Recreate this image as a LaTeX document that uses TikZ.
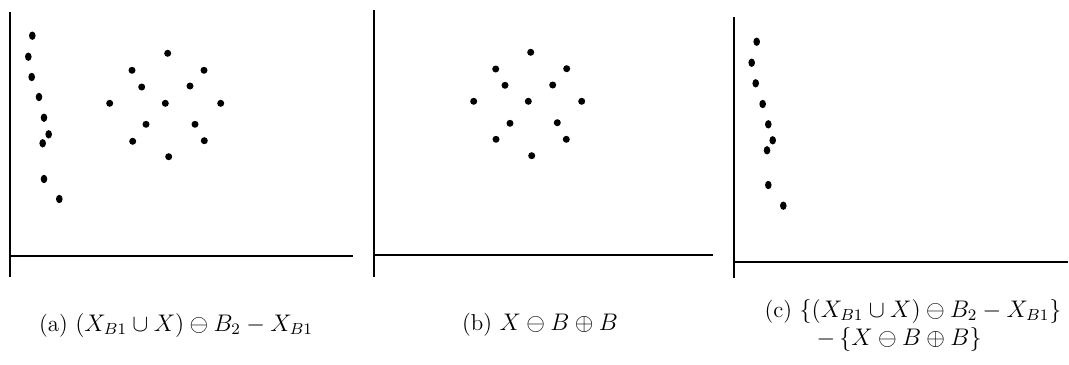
\documentclass[tikz,border=0pt]{standalone}
\usepackage{amsmath, amssymb}
\usepackage{tikz}
\usetikzlibrary{positioning}

\begin{document}
\begin{tikzpicture}[x=0.5pt, y=-0.5pt, axis/.style={line width=0.9pt, black},
  capnode/.style={font=\fontsize{11.5}{14}\selectfont, align=left, inner sep=0pt},
  ldot/.style={fill=black}, cdot/.style={fill=black}]
\useasboundingbox (0,0) rectangle (1069,364);
% panel (a)
\draw[axis] (10,12) -- (10,277); \draw[axis] (9,256) -- (353,256);
\foreach \x/\y in {32.3/35.7, 28.3/56.7, 31.7/77, 39/97, 44/117.7, 48.7/134.3, 42.7/143.3, 44/179, 59.3/199}
  \fill[ldot] (\x,\y) ellipse [x radius=1.65pt, y radius=2.1pt];
\foreach \x/\y in {167.7/53.3, 132/70.3, 204/70.3, 141.7/87, 190/86, 109.7/103.3, 165.3/103.3, 220.7/103.3, 146/124.3, 195/124.3, 132.7/141.3, 204.3/140.7, 168.7/156.7}
  \fill[cdot] (\x,\y) circle [radius=1.75pt];
% panel (b)
\draw[axis] (374,10) -- (374,277); \draw[axis] (373,255) -- (713,255);
\foreach \x/\y in {530.7/52.3, 495.7/69, 566.7/68.7, 505/85.3, 552.7/85, 473.7/101.3, 528.3/101.3, 581.7/101.3, 510/123.3, 557.3/122.7, 496/139.3, 566.3/139.3, 531.7/155.7}
  \fill[cdot] (\x,\y) circle [radius=1.75pt];
% panel (c)
\draw[axis] (734,17) -- (734,278); \draw[axis] (733,261.7) -- (1068,261.7);
\foreach \x/\y in {756.7/41.7, 751.7/62.7, 755.7/83.3, 762.7/104, 768.3/124.3, 772.7/140.3, 767/150.3, 768.3/185, 783.3/205.7}
  \fill[ldot] (\x,\y) ellipse [x radius=1.65pt, y radius=2.1pt];
% captions
\node[capnode] (capa) at (176,325) {(a) $(X_{B1}\cup X)\ominus B_2 - X_{B1}$};
\node[capnode] (capb) at (540,325) {(b) $X\ominus B\oplus B$};
\node[capnode] (capc) at (913,325) {(c) $\{(X_{B1}\cup X)\ominus B_2 - X_{B1}\}$\\\hspace*{26pt}$-\,\{X\ominus B\oplus B\}$};
\end{tikzpicture}
\end{document}
